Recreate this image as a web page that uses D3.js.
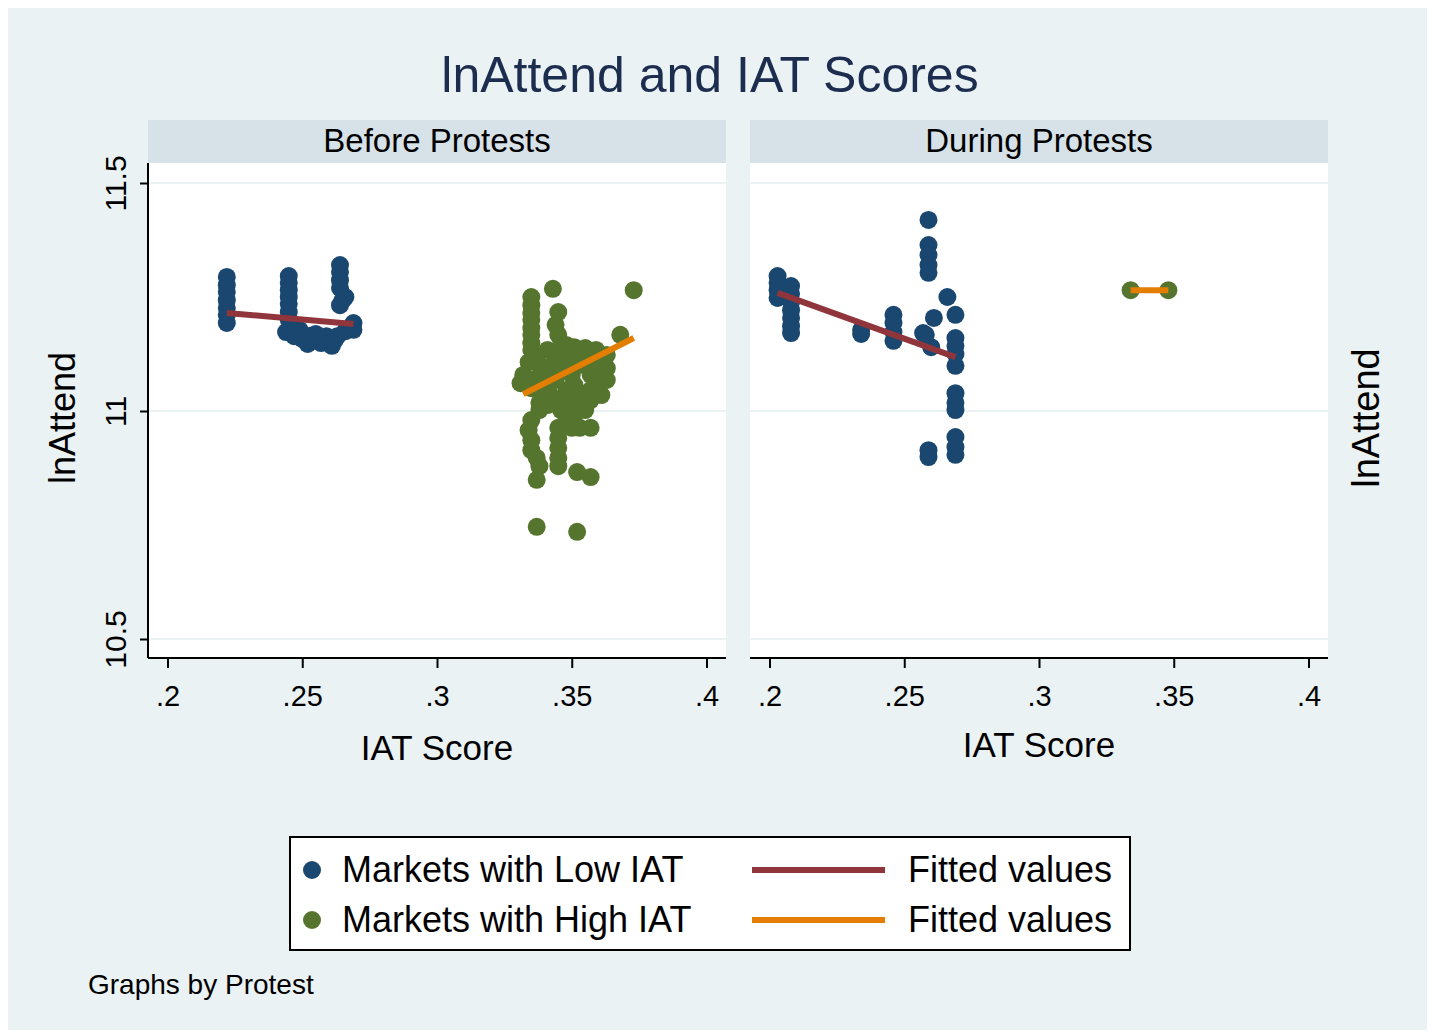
<!DOCTYPE html>
<html lang="en">
<head>
<meta charset="UTF-8">
<title>lnAttend and IAT Scores</title>
<style>
  body { margin: 0; background: #fff; }
  svg text { font-family: "Liberation Sans", Arial, sans-serif; fill: #000; }
  .grid line { stroke: #eaf2f3; stroke-width: 2px; }
  .axis line { stroke: #000; stroke-width: 2px; }
  .axis path { display: none; }
</style>
</head>
<body>
<script src="https://d3js.org/d3.v7.min.js"></script>
<script>
// ---- data ----
const panels = ["Before Protests", "During Protests"];
const xTicks = [0.2, 0.25, 0.3, 0.35, 0.4];
const yTicks = [10.5, 11, 11.5];
const seriesNames = ["Markets with Low IAT", "Markets with High IAT"];
const fitNames = ["Fitted values", "Fitted values"];

// [IAT score, lnAttend]
const beforeLow = [
  [0.222, 11.294], [0.222, 11.276], [0.222, 11.261], [0.222, 11.243], [0.222, 11.226], [0.222, 11.211], [0.222, 11.193],
  [0.245, 11.296], [0.245, 11.281], [0.245, 11.265], [0.245, 11.250], [0.245, 11.235], [0.245, 11.217], [0.245, 11.200], [0.245, 11.178],
  [0.264, 11.320], [0.264, 11.305], [0.264, 11.287], [0.264, 11.270], [0.265, 11.243], [0.266, 11.250], [0.264, 11.232],
  [0.244, 11.173], [0.247, 11.164], [0.250, 11.158], [0.254, 11.154], [0.257, 11.160], [0.260, 11.149], [0.263, 11.164],
  [0.266, 11.175], [0.269, 11.178], [0.269, 11.193], [0.249, 11.178], [0.255, 11.169], [0.259, 11.164], [0.252, 11.147],
  [0.261, 11.143], [0.257, 11.149], [0.253, 11.165], [0.262, 11.155]
];
const beforeHigh = [
  [0.335, 11.250], [0.335, 11.232], [0.335, 11.215], [0.335, 11.200], [0.335, 11.182], [0.335, 11.167], [0.335, 11.149], [0.335, 11.134],
  [0.336, 11.123], [0.334, 11.107], [0.338, 11.101], [0.332, 11.079], [0.337, 11.072], [0.340, 11.086], [0.331, 11.061], [0.335, 11.050],
  [0.338, 11.042], [0.338, 11.018], [0.338, 11.002],
  [0.343, 11.268], [0.345, 11.217], [0.344, 11.189], [0.345, 11.167], [0.346, 11.145], [0.346, 11.123], [0.345, 11.107],
  [0.348, 11.145], [0.351, 11.140], [0.355, 11.138], [0.359, 11.134], [0.360, 11.112], [0.361, 11.090], [0.360, 11.068], [0.359, 11.046],
  [0.357, 11.024], [0.353, 11.013], [0.350, 11.013], [0.346, 11.024], [0.348, 11.046], [0.351, 11.057], [0.355, 11.035], [0.350, 11.079],
  [0.353, 11.101], [0.357, 11.079], [0.344, 11.068], [0.346, 11.090], [0.363, 11.123], [0.363, 11.094], [0.363, 11.068],
  [0.341, 11.134], [0.343, 11.101], [0.348, 11.112], [0.351, 11.112], [0.355, 11.112], [0.357, 11.101], [0.350, 11.035],
  [0.353, 11.035], [0.357, 11.046], [0.361, 11.035], [0.346, 11.002], [0.342, 11.035], [0.340, 11.057], [0.341, 11.013],
  [0.348, 10.991], [0.351, 10.991], [0.355, 11.002],
  [0.373, 11.265], [0.368, 11.167],
  [0.335, 10.980], [0.334, 10.958], [0.335, 10.936], [0.335, 10.914], [0.337, 10.897], [0.338, 10.879], [0.337, 10.849],
  [0.345, 10.963], [0.345, 10.941], [0.345, 10.919], [0.345, 10.897], [0.345, 10.879], [0.350, 10.963], [0.353, 10.963], [0.357, 10.963],
  [0.352, 10.866], [0.357, 10.855],
  [0.337, 10.746], [0.352, 10.735]
];
const duringLow = [
  [0.203, 11.296], [0.203, 11.281], [0.203, 11.265], [0.203, 11.248],
  [0.208, 11.274], [0.208, 11.257], [0.208, 11.239], [0.208, 11.221], [0.208, 11.204], [0.208, 11.186], [0.208, 11.171],
  [0.234, 11.178], [0.234, 11.169],
  [0.246, 11.211], [0.246, 11.193], [0.246, 11.173], [0.246, 11.154],
  [0.259, 11.419], [0.259, 11.364], [0.259, 11.342], [0.259, 11.320], [0.259, 11.303],
  [0.266, 11.250], [0.261, 11.204], [0.257, 11.171], [0.260, 11.140], [0.258, 11.167], [0.269, 11.211],
  [0.269, 11.160], [0.269, 11.143], [0.269, 11.125], [0.269, 11.099],
  [0.269, 11.039], [0.269, 11.018], [0.269, 11.002],
  [0.269, 10.943], [0.269, 10.921], [0.269, 10.904],
  [0.259, 10.914], [0.259, 10.899]
];
const duringHigh = [[0.334, 11.265], [0.348, 11.265]];

// fitted lines: [start, end]
const beforeLowFit = [[0.222, 11.215], [0.269, 11.191]];
const beforeHighFit = [[0.332, 11.037], [0.373, 11.160]];
const duringLowFit = [[0.203, 11.259], [0.269, 11.118]];
const duringHighFit = [[0.334, 11.265], [0.348, 11.265]];

const panelData = [
  { low: beforeLow, high: beforeHigh, lowFit: beforeLowFit, highFit: beforeHighFit },
  { low: duringLow, high: duringHigh, lowFit: duringLowFit, highFit: duringHighFit }
];

// ---- styles ----
const colLow = "#1a476f", colHigh = "#55752f", colLowFit = "#90353b", colHighFit = "#e37e00";
const W = 1432, H = 1035;
const panelLeft = [148, 750], panelTop = 163, panelW = 578, panelH = 495;
const stripH = 43;

const svg = d3.select("body").append("svg")
  .attr("width", W).attr("height", H);

svg.append("rect").attr("x", 8).attr("y", 8).attr("width", W - 13).attr("height", H - 13)
  .attr("fill", "#eaf2f3");

svg.append("text")
  .attr("x", 710).attr("y", 92)
  .attr("text-anchor", "middle")
  .style("font-size", "50px")
  .style("fill", "#1c2d4f")
  .text("lnAttend and IAT Scores");

const x = d3.scaleLinear().domain([0.2, 0.4]).range([19.5, 558.5]);
const y = d3.scaleLinear().domain([10.5, 11.5]).range([476, 20]);
const line = d3.line().x(d => x(d[0])).y(d => y(d[1]));
const fmt = d => d3.format(".2~f")(d).replace(/^0/, "");

panels.forEach((name, i) => {
  const g = svg.append("g").attr("transform", `translate(${panelLeft[i]},${panelTop})`);

  // strip
  g.append("rect").attr("x", 0).attr("y", -stripH).attr("width", panelW).attr("height", stripH)
    .attr("fill", "#d6e2e8");
  g.append("text").attr("x", panelW / 2).attr("y", -11)
    .attr("text-anchor", "middle").style("font-size", "33px").text(name);

  // plot region
  g.append("rect").attr("width", panelW).attr("height", panelH).attr("fill", "#fff");

  g.append("g").attr("class", "grid")
    .selectAll("line").data(yTicks).join("line")
    .attr("x1", 0).attr("x2", panelW)
    .attr("y1", d => y(d)).attr("y2", d => y(d));

  const d = panelData[i];
  g.selectAll(".low").data(d.low).join("circle").attr("class", "low")
    .attr("cx", p => x(p[0])).attr("cy", p => y(p[1])).attr("r", 9).attr("fill", colLow);
  g.selectAll(".high").data(d.high).join("circle").attr("class", "high")
    .attr("cx", p => x(p[0])).attr("cy", p => y(p[1])).attr("r", 9).attr("fill", colHigh);

  g.append("path").attr("d", line(d.lowFit)).attr("stroke", colLowFit)
    .attr("stroke-width", 6).attr("fill", "none");
  g.append("path").attr("d", line(d.highFit)).attr("stroke", colHighFit)
    .attr("stroke-width", 6).attr("fill", "none");

  // x axis
  const xa = g.append("g").attr("class", "axis").attr("transform", `translate(0,${panelH})`)
    .call(d3.axisBottom(x).tickValues(xTicks).tickFormat(fmt).tickSize(10).tickPadding(17));
  xa.attr("font-size", null).attr("font-family", null);
  xa.selectAll("text").style("font-size", "29px");
  xa.append("line").attr("x1", 0).attr("x2", panelW).attr("y1", 0).attr("y2", 0);

  g.append("text").attr("x", panelW / 2).attr("y", i === 0 ? 760 - panelTop : 757 - panelTop)
    .attr("text-anchor", "middle").style("font-size", "35px").text("IAT Score");

  if (i === 0) {
    const ya = g.append("g").attr("class", "axis")
      .call(d3.axisLeft(y).tickValues(yTicks).tickFormat(d3.format("~g")).tickSize(8));
    ya.attr("font-size", null).attr("font-family", null);
    ya.selectAll("text")
      .attr("x", null).attr("dy", null)
      .attr("transform", "translate(-33,0) rotate(-90)")
      .attr("text-anchor", "middle")
      .attr("dominant-baseline", "central")
      .style("font-size", "30px");
    ya.append("line").attr("x1", 0).attr("x2", 0).attr("y1", 0).attr("y2", panelH);
  }
});

// y titles
svg.append("text").attr("transform", "translate(62,418) rotate(-90)")
  .attr("text-anchor", "middle").attr("dominant-baseline", "central")
  .style("font-size", "36px").text("lnAttend");
svg.append("text").attr("transform", "translate(1366,418) rotate(-90)")
  .attr("text-anchor", "middle").attr("dominant-baseline", "central")
  .style("font-size", "38px").text("lnAttend");

// legend
const lg = svg.append("g").attr("transform", "translate(290,837)");
lg.append("rect").attr("width", 840).attr("height", 113)
  .attr("fill", "#fff").attr("stroke", "#000").attr("stroke-width", 2);
const rows = [33, 83];
[colLow, colHigh].forEach((c, k) => {
  lg.append("circle").attr("cx", 22).attr("cy", rows[k]).attr("r", 9).attr("fill", c);
  lg.append("text").attr("x", 52).attr("y", rows[k] + 12).style("font-size", "36px").text(seriesNames[k]);
});
[colLowFit, colHighFit].forEach((c, k) => {
  lg.append("line").attr("x1", 462).attr("x2", 595).attr("y1", rows[k]).attr("y2", rows[k])
    .attr("stroke", c).attr("stroke-width", 6);
  lg.append("text").attr("x", 618).attr("y", rows[k] + 12).style("font-size", "36px").text(fitNames[k]);
});

svg.append("text").attr("x", 88).attr("y", 994).style("font-size", "28px").text("Graphs by Protest");
</script>
</body>
</html>
